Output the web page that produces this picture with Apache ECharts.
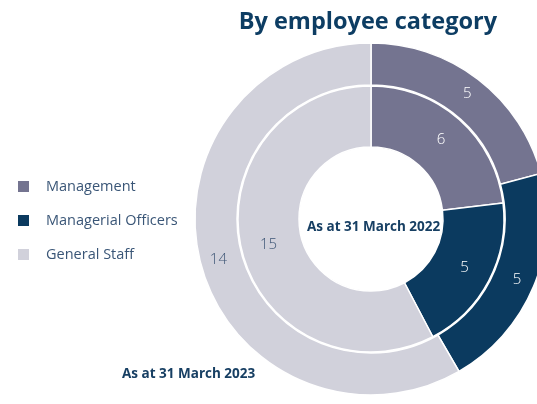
<!DOCTYPE html>
<html><head><meta charset="utf-8">
<script src="https://cdn.jsdelivr.net/npm/echarts@6/dist/echarts.min.js"></script>
<style>html,body{margin:0;padding:0;background:#fff}#c{width:537px;height:404px}</style>
</head><body><div id="c"></div>
<script>
const categories = ['Management', 'Managerial Officers', 'General Staff'];
const values2022 = [6, 5, 15];
const values2023 = [5, 5, 14];
const colors = ['#747490', '#0b3a5f', '#d1d1db'];
const labelColors = ['#ffffff', '#ffffff', '#3d5575'];

const chart = echarts.init(document.getElementById('c'));
const mk = (vals) => categories.map((n, i) => ({
  name: n, value: vals[i],
  itemStyle: { color: colors[i] },
  label: { color: labelColors[i] }
}));
chart.setOption({
  animation: false,
  title: {
    text: 'By employee category', right: 35, top: 5,
    textStyle: { fontFamily: 'Open Sans', fontWeight: 'bold', fontSize: 23.5, color: '#0d3d63' }
  },
  legend: {
    orient: 'vertical', left: 16, top: 179, padding: 0,
    icon: 'rect', itemWidth: 13, itemHeight: 13, itemGap: 19,
    data: categories,
    textStyle: { fontFamily: 'Open Sans', fontSize: 14.5, color: '#3a5677', padding: [0, 0, 0, 11] }
  },
  graphic: [
    { type: 'text', left: 307, top: 220, style: { text: 'As at 31 March 2022', font: 'bold 13.5px "Open Sans"', fill: '#173f63' } },
    { type: 'text', left: 122, top: 367, style: { text: 'As at 31 March 2023', font: 'bold 13.5px "Open Sans"', fill: '#173f63' } }
  ],
  series: [
    {
      type: 'pie', center: [371, 219], radius: [134, 176], startAngle: 90,
      label: { position: 'inside', fontFamily: 'Open Sans', fontSize: 15, fontWeight: 300, formatter: '{c}' },
      labelLine: { show: false },
      itemStyle: { borderColor: '#fff', borderWidth: 1.5 },
      emphasis: { disabled: true },
      data: mk(values2023)
    },
    {
      type: 'pie', center: [371, 219], radius: [72, 133], startAngle: 90,
      label: { position: 'inside', fontFamily: 'Open Sans', fontSize: 15, fontWeight: 300, formatter: '{c}' },
      labelLine: { show: false },
      itemStyle: { borderColor: '#fff', borderWidth: 1.5 },
      emphasis: { disabled: true },
      data: mk(values2022)
    }
  ]
});
</script></body></html>
